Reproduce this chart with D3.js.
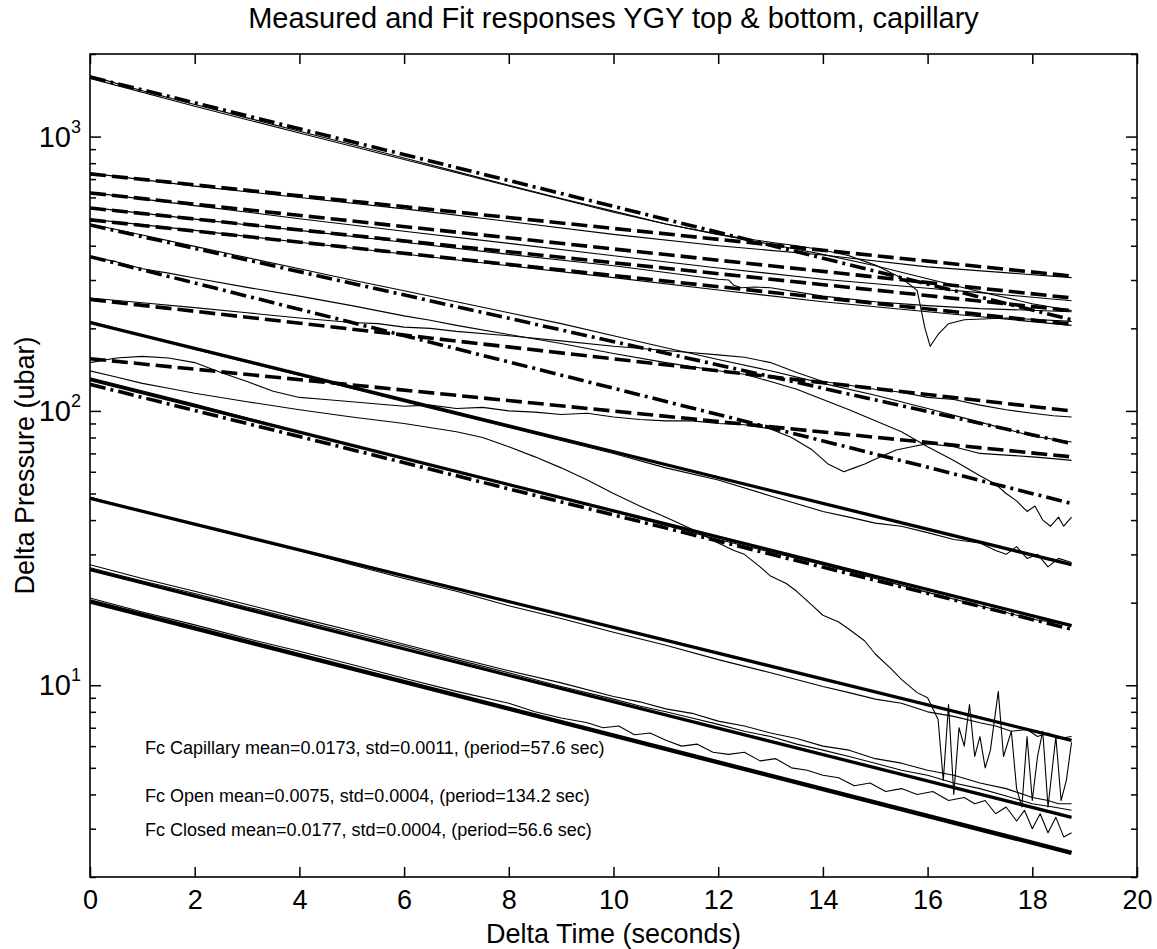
<!DOCTYPE html>
<html><head><meta charset="utf-8">
<script src="https://cdn.jsdelivr.net/npm/d3@7"></script>
<style>
body{margin:0;background:#fff;}
text{font-family:"Liberation Sans",Arial,Helvetica,sans-serif;fill:#000;}
</style>
</head><body>
<svg id="chart" width="1157" height="949"></svg>
<script>
// ---------------- data ----------------
const titleText = "Measured and Fit responses  YGY top & bottom, capillary";
const xLabelText = "Delta Time (seconds)";
const yLabelText = "Delta Pressure (ubar)";
const xTickValues = [0,2,4,6,8,10,12,14,16,18,20];
const yMajorTicks = [10,100,1000];
const yMajorExp = ["1","2","3"];
const notes = [
  "Fc Capillary mean=0.0173, std=0.0011, (period=57.6 sec)",
  "Fc Open mean=0.0075, std=0.0004, (period=134.2 sec)",
  "Fc Closed mean=0.0177, std=0.0004, (period=56.6 sec)"
];
const fitTimes = [0, 18.75];
// fit lines: [value at start, value at end]
const openFits = [[731,310],[623,258],[549,232],[497,207],[255,100],[155,68]];
const capFits = [[1650,215],[476,76],[365,46],[125,16]];
const closedFits = [[210,27.5],[130,16.5],[48,6.3],[26.4,3.3],[20.2,2.45]];

// measured responses (thin lines): [time, value]
const measCapTop = [[0,1665],[1,1470],[2,1310],[3,1170],[4,1045],[5,935],[6,835],[7,745],[8,665],[9,595],[10,535],[11,480],[12,440],[12.5,425],[13,412],[13.5,400],[14,386],[14.5,368],[15,340],[15.5,305],[15.8,275],[15.95,200],[16.05,172],[16.2,190],[16.4,208],[16.7,215],[17.5,218],[18.75,212]];
const measCapTop2 = [[0,1630],[2,1290],[4,1030],[6,825],[8,660],[10,530],[11,480],[12,440],[13,405],[14,372],[15,338],[16,303],[17,272],[18,246],[18.75,232]];
const measOpen1 = [[0,736],[2,660],[4,600],[6,545],[8,490],[10,440],[12,400],[14,370],[16,335],[18.75,306]];
const measOpen2 = [[0,626],[2,560],[4,502],[6,452],[8,408],[10,368],[12,332],[14,302],[16,280],[17,270],[18.75,252]];
const measOpen3 = [[0,552],[2,500],[4,455],[6,412],[8,372],[10,338],[12,302],[12.2,300],[12.3,287],[12.45,281],[12.7,283],[13,281],[14,262],[15,250],[16,242],[17,236],[18.75,230]];
const measOpen4 = [[0,500],[2,455],[4,412],[6,373],[8,338],[10,306],[12,276],[14,250],[16,230],[18.75,205]];
const measCap2 = [[0,480],[1,438],[2,398],[3,362],[4,330],[5,300],[6,274],[7,250],[8,228],[9,208],[10,188],[11,170],[12,154],[13,140],[14,126],[15,114],[16,102],[17,91],[18,81],[18.75,77]];
const measCapMid = [[0,365],[0.5,350],[1,330],[1.5,318],[2,305],[3,282],[4,262],[5,242],[6,222],[6.5,214],[7,205],[8,190],[9,176],[10,162],[11,150],[12,140],[12.5,136],[13,128],[13.5,120],[14,110],[14.5,101],[15,92],[15.5,84],[16,74],[16.5,66],[17,58],[17.3,54],[17.5,50],[17.7,47],[17.9,43],[18.05,45],[18.2,40],[18.35,38],[18.5,41],[18.6,38],[18.75,41]];
const measOpen5 = [[0,258],[1,248],[2,238],[3,228],[4,218],[5,210],[5.5,208],[6,202],[6.5,200],[7,195],[8,188],[9,180],[10,172],[11,166],[12,160],[12.5,157],[13,150],[13.5,138],[14,128],[14.5,124],[15,120],[15.5,117],[16,112],[16.5,110],[17,105],[17.5,101],[18,98],[18.4,96],[18.75,95]];
const measOpen6 = [[0,150],[0.5,156],[1,158],[1.5,156],[2,150],[2.5,138],[3,128],[3.5,118],[4,112],[4.5,110],[5,108],[5.5,106],[6,104],[6.5,105],[7,102],[7.5,103],[8,100],[8.5,99],[9,97],[9.5,98],[10,95],[10.5,93],[11,92],[11.5,92],[12,90],[12.5,89],[13,86],[13.4,80],[13.8,72],[14.1,64],[14.4,60],[14.6,62],[14.8,64],[15.1,68],[15.4,72],[15.7,74],[16,76],[16.5,74],[17,70],[17.5,69],[18,68],[18.4,67],[18.75,66]];
const measCapLow = [[0,140],[0.5,133],[1,126],[1.5,121],[2,116],[3,108],[4,101],[5,95],[6,90],[7,84],[7.5,80],[8,74],[8.5,68],[9,62],[9.5,56],[10,50],[10.5,45],[11,41],[11.5,37],[12,33],[12.3,31],[12.5,30],[12.8,27],[13,25],[13.3,23.5],[13.5,22],[13.8,19.5],[14,18],[14.3,17],[14.5,16],[14.8,14.5],[15,13],[15.3,11.5],[15.5,10.5],[15.8,9.4],[16,9],[16.2,7.5],[16.3,4.5],[16.4,8.5],[16.5,4.0],[16.6,7],[16.7,6],[16.8,8.5],[16.9,5.5],[17,6.5],[17.1,5.0],[17.2,5.8],[17.35,9.5],[17.45,5.5],[17.6,6.8],[17.7,4.2],[17.8,3.6],[17.9,6.5],[18,3.8],[18.1,5.5],[18.2,6.8],[18.3,3.6],[18.45,6.5],[18.55,3.8],[18.65,4.5],[18.75,6.2]];
const measClosed1 = [[0,212],[2,168],[4,135],[6,108],[8,87],[10,70],[11,62],[12,56],[13,49],[14,43],[14.5,41],[15,39],[15.5,38],[16,36],[16.5,34],[17,33],[17.3,31],[17.5,30],[17.7,32],[17.9,29],[18.1,30],[18.3,27],[18.5,29],[18.75,28]];
const measClosed2 = [[0,132],[2,106],[4,84],[6,67],[8,54],[10,43],[12,34],[14,27.5],[15,24.5],[16,21.8],[17,19.5],[18,17.4],[18.75,16.6]];
const measClosed3 = [[0,48.5],[1,43],[2,38.5],[3,34.5],[4,31],[5,27.5],[6,24.5],[7,22],[8,19.5],[9,17.5],[10,15.6],[11,14],[12,12.4],[13,11.1],[14,9.9],[14.5,9.4],[15,8.9],[15.5,8.6],[16,8.0],[16.5,7.7],[17,7.3],[17.3,7.1],[17.6,6.8],[17.9,6.9],[18.1,6.5],[18.3,6.7],[18.5,6.4],[18.75,6.5]];
const measCapBot1 = [[0,27.5],[1,24.5],[2,22],[3,19.7],[4,17.6],[5,15.8],[6,14.1],[7,12.6],[8,11.3],[9,10.2],[10,9.1],[10.5,8.7],[11,8.2],[11.5,7.9],[12,7.4],[12.5,7.1],[13,6.7],[13.5,6.4],[14,6.0],[14.5,5.8],[15,5.4],[15.5,5.2],[16,4.9],[16.5,4.7],[17,4.4],[17.5,4.2],[18,3.9],[18.3,3.8],[18.5,3.7],[18.75,3.7]];
const measCapBot2 = [[0,26.8],[1,24],[2,21.6],[3,19.3],[4,17.3],[5,15.5],[6,13.9],[7,12.4],[8,11.1],[9,9.9],[10,8.9],[10.5,8.4],[11,8.0],[11.5,7.6],[12,7.2],[12.5,6.8],[13,6.5],[13.5,6.1],[14,5.8],[14.5,5.5],[15,5.2],[15.5,4.9],[16,4.7],[16.5,4.4],[17,4.2],[17.5,3.95],[18,3.7],[18.4,3.6],[18.75,3.5]];
const measClosed5 = [[0,20.8],[1,18.5],[2,16.6],[3,14.8],[4,13.3],[5,11.9],[6,10.6],[7,9.5],[8,8.6],[8.5,8.0],[9,7.6],[9.5,7.3],[9.8,7.0],[10.1,7.1],[10.4,6.6],[10.7,6.7],[11,6.3],[11.3,6.0],[11.6,6.1],[11.9,5.7],[12.2,5.6],[12.5,5.7],[12.8,5.3],[13.1,5.4],[13.4,5.0],[13.7,4.9],[14,4.7],[14.3,4.6],[14.6,4.3],[14.9,4.4],[15.2,4.1],[15.5,4.2],[15.8,4.0],[16.1,4.1],[16.4,3.8],[16.7,3.9],[16.9,3.7],[17.1,3.8],[17.3,3.4],[17.5,3.6],[17.7,3.2],[17.85,3.5],[18,3.0],[18.15,3.4],[18.3,2.9],[18.45,3.3],[18.6,2.8],[18.75,2.9]];

const measured = [measCapTop, measCapTop2, measOpen1, measOpen2, measOpen3, measOpen4, measCap2, measCapMid, measOpen5, measOpen6, measCapLow, measClosed1, measClosed2, measClosed3, measCapBot1, measCapBot2, measClosed5];

// ---------------- chart ----------------
const W = 1157, H = 949;
const L = 90, R = 1137, T = 54, B = 877;
const svg = d3.select("#chart");
svg.append("rect").attr("width", W).attr("height", H).attr("fill", "#fff");

const x = d3.scaleLinear().domain([0,20]).range([L,R]);
const y = d3.scaleLog().domain([2,2000]).range([B,T]);

svg.append("clipPath").attr("id","clp").append("rect")
  .attr("x",L).attr("y",T).attr("width",R-L).attr("height",B-T);

const plot = svg.append("g").attr("clip-path","url(#clp)");
const line = d3.line().x(d => x(d[0])).y(d => y(d[1]));

plot.selectAll("path.meas").data(measured).join("path")
  .attr("class","meas").attr("d", line)
  .attr("fill","none").attr("stroke","#000").attr("stroke-width",1.1)
  .attr("stroke-linejoin","round");

function fitData(f){ return [[fitTimes[0], f[0]], [fitTimes[1], f[1]]]; }

plot.selectAll("path.open").data(openFits).join("path")
  .attr("class","open").attr("d", f => line(fitData(f)))
  .attr("fill","none").attr("stroke","#000").attr("stroke-width",3.6)
  .attr("stroke-dasharray","16,6");
plot.selectAll("path.cap").data(capFits).join("path")
  .attr("class","cap").attr("d", f => line(fitData(f)))
  .attr("fill","none").attr("stroke","#000").attr("stroke-width",3.6)
  .attr("stroke-dasharray","16,5,3,5");
plot.selectAll("path.closed").data(closedFits).join("path")
  .attr("class","closed").attr("d", f => line(fitData(f)))
  .attr("fill","none").attr("stroke","#000").attr("stroke-width",(d,i)=> i===4 ? 4.4 : 3.3);

const minorTicks = [];
[1,10,100,1000].forEach(dec => { for (let k=2;k<=9;k++){ const v=dec*k; if (v>=2 && v<=2000) minorTicks.push(v);} });

const axG = svg.append("g");
const xb = axG.append("g").attr("transform",`translate(0,${B})`)
  .call(d3.axisBottom(x).tickValues(xTickValues).tickSize(-10).tickPadding(13).tickFormat(d3.format("d")));
axG.append("g").attr("transform",`translate(0,${T})`)
  .call(d3.axisTop(x).tickValues(xTickValues).tickSize(-10).tickFormat(""));
axG.append("g").attr("transform",`translate(${L},0)`)
  .call(d3.axisLeft(y).tickValues(yMajorTicks).tickSize(-11).tickFormat(""));
axG.append("g").attr("transform",`translate(${L},0)`)
  .call(d3.axisLeft(y).tickValues(minorTicks).tickSize(-6).tickFormat(""));
axG.append("g").attr("transform",`translate(${R},0)`)
  .call(d3.axisRight(y).tickValues(yMajorTicks).tickSize(-11).tickFormat(""));
axG.append("g").attr("transform",`translate(${R},0)`)
  .call(d3.axisRight(y).tickValues(minorTicks).tickSize(-6).tickFormat(""));
axG.selectAll(".domain").remove();
axG.selectAll(".tick line").attr("stroke","#000").attr("stroke-width",1.5);
xb.selectAll(".tick text").attr("font-size",27).attr("font-family","Liberation Sans, Arial, sans-serif");

svg.append("rect").attr("x",L).attr("y",T).attr("width",R-L).attr("height",B-T)
  .attr("fill","none").attr("stroke","#000").attr("stroke-width",1.6);

yMajorTicks.forEach((v,i) => {
  const t = svg.append("text").attr("x", L-9).attr("y", y(v)+10)
    .attr("text-anchor","end").attr("font-size",29);
  t.append("tspan").text("10");
  t.append("tspan").attr("font-size",18).attr("dy",-14).text(yMajorExp[i]);
});

svg.append("text").attr("x",(L+R)/2).attr("y",28).attr("text-anchor","middle")
  .attr("font-size",29).text(titleText);
svg.append("text").attr("x",(L+R)/2).attr("y",943).attr("text-anchor","middle")
  .attr("font-size",27).text(xLabelText);
svg.append("text").attr("transform",`translate(34,${(T+B)/2}) rotate(-90)`)
  .attr("text-anchor","middle").attr("font-size",27).text(yLabelText);

const noteY = [754, 802, 836];
notes.forEach((s,i) => {
  svg.append("text").attr("x",145).attr("y",noteY[i]).attr("font-size",18).text(s);
});
</script>
</body></html>
